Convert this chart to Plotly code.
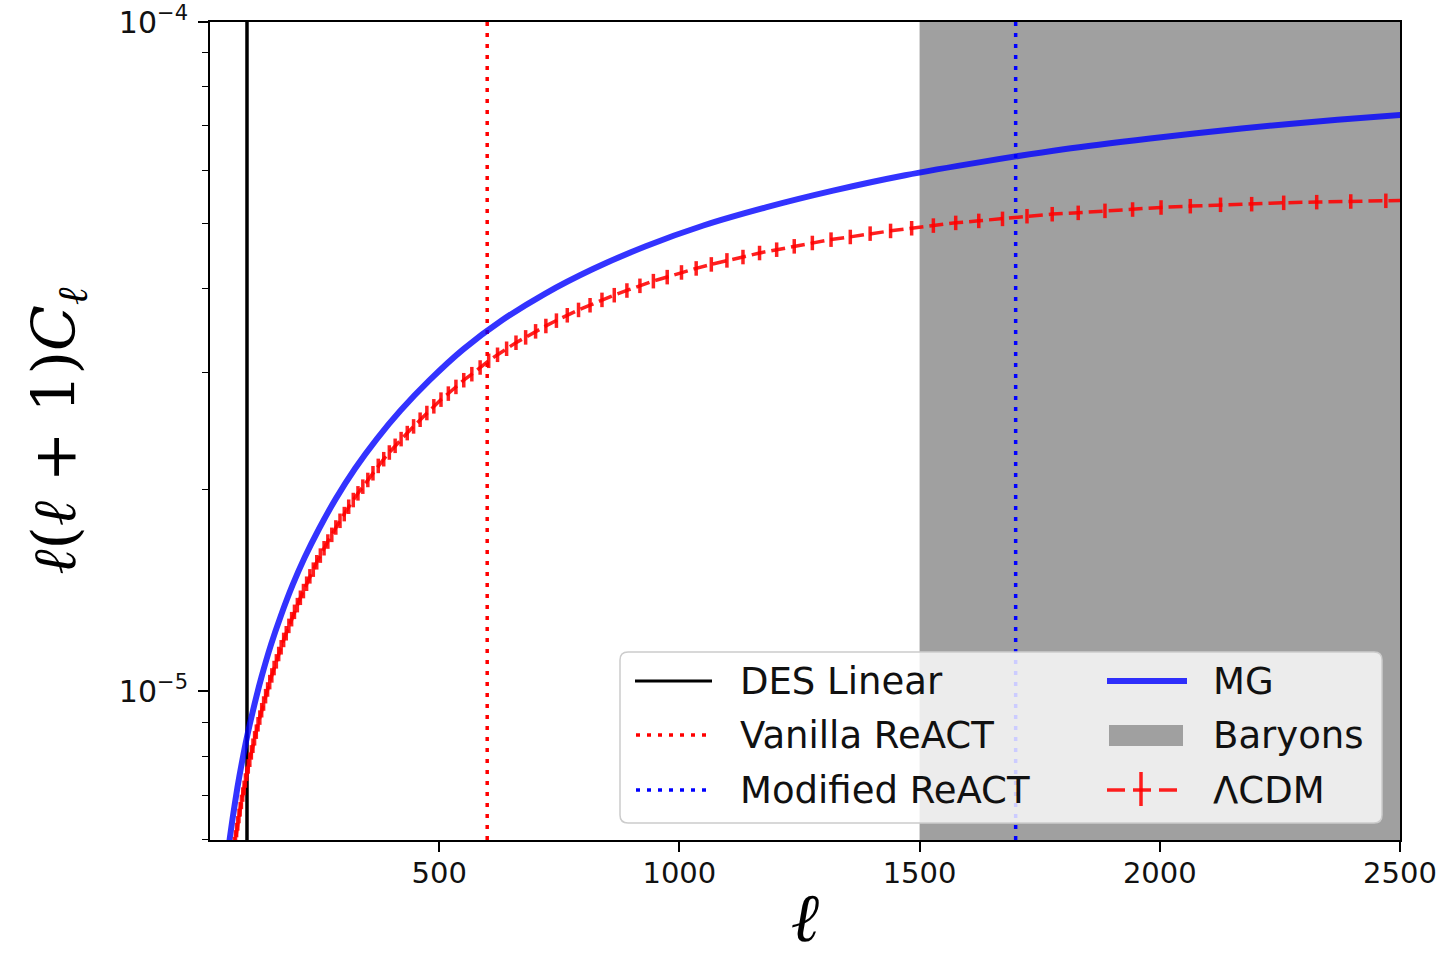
import plotly.graph_objects as go

# ---------------- data ----------------
# LambdaCDM spectrum: multipoles and log10 of l(l+1)C_l
ell_lcdm = [50, 51.5, 53.1, 54.7, 56.4, 58.1, 59.9, 61.7, 63.6, 65.5, 67.5, 69.6, 71.7, 73.9,
            76.1, 78.4, 80.8, 83.3, 85.8, 88.4, 91.1, 93.9, 96.8, 99.7, 102.7, 105.9, 109.1,
            112.4, 115.8, 119.4, 123.0, 126.7, 130.6, 134.6, 138.7, 142.9, 147.3, 151.7, 156.4,
            161.1, 166.0, 171.1, 176.3, 181.7, 187.2, 192.9, 198.8, 204.8, 211.1, 217.5, 224.1,
            230.9, 238.0, 245.2, 252.7, 260.4, 268.3, 276.5, 284.9, 293.6, 302.5, 311.7, 321.2,
            331.0, 341.1, 351.5, 362.2, 373.2, 384.6, 396.3, 408.4, 420.8, 433.6, 446.8, 460.4,
            474.4, 488.9, 503.8, 519.1, 534.9, 551.2, 568.0, 585.3, 603.1, 621.5, 640.4, 659.9,
            680.0, 700.7, 722.1, 744.1, 766.7, 790.1, 814.1, 838.9, 864.5, 890.8, 917.9, 945.9,
            974.7, 1004.4, 1035.0, 1066.5, 1099.0, 1132.4, 1166.9, 1202.5, 1239.1, 1276.8,
            1315.7, 1355.8, 1397.1, 1439.6, 1483.5, 1528.7, 1575.2, 1623.2, 1672.6, 1723.6,
            1776.1, 1830.2, 1885.9, 1943.4, 2002.6, 2063.5, 2126.4, 2191.2, 2257.9, 2326.6,
            2397.5, 2470.5, 2545.7]
lcdm_log10 = [-5.365, -5.354, -5.344, -5.333, -5.323, -5.312, -5.302, -5.291, -5.281, -5.270,
              -5.260, -5.249, -5.239, -5.228, -5.218, -5.207, -5.197, -5.186, -5.176, -5.165,
              -5.154, -5.144, -5.133, -5.123, -5.112, -5.102, -5.091, -5.081, -5.070, -5.060,
              -5.049, -5.039, -5.028, -5.018, -5.007, -4.997, -4.986, -4.976, -4.965, -4.955,
              -4.944, -4.934, -4.923, -4.913, -4.902, -4.892, -4.881, -4.871, -4.860, -4.850,
              -4.839, -4.828, -4.818, -4.807, -4.797, -4.786, -4.776, -4.766, -4.755, -4.745,
              -4.735, -4.724, -4.714, -4.704, -4.694, -4.684, -4.674, -4.663, -4.653, -4.643,
              -4.633, -4.623, -4.614, -4.604, -4.594, -4.584, -4.574, -4.564, -4.555, -4.545,
              -4.535, -4.526, -4.516, -4.506, -4.497, -4.488, -4.479, -4.471, -4.462, -4.454,
              -4.446, -4.438, -4.430, -4.423, -4.415, -4.408, -4.401, -4.394, -4.387, -4.381,
              -4.374, -4.368, -4.362, -4.356, -4.351, -4.345, -4.340, -4.335, -4.330, -4.325,
              -4.321, -4.316, -4.312, -4.308, -4.304, -4.300, -4.297, -4.294, -4.290, -4.287,
              -4.285, -4.282, -4.280, -4.277, -4.275, -4.273, -4.272, -4.270, -4.269, -4.268,
              -4.267, -4.266]
lcdm_err_percent = 2.5

# Modified-gravity spectrum
ell_mg = [50, 60, 70, 80, 90, 100, 115, 130, 150, 170, 195, 220, 250, 285, 325, 370, 420, 480,
          550, 630, 720, 820, 930, 1050, 1180, 1320, 1470, 1630, 1800, 1980, 2170, 2370, 2550]
mg_log10 = [-5.304, -5.242, -5.190, -5.144, -5.104, -5.068, -5.021, -4.979, -4.930, -4.888,
            -4.841, -4.800, -4.757, -4.712, -4.667, -4.623, -4.580, -4.535, -4.489, -4.446,
            -4.406, -4.369, -4.335, -4.304, -4.277, -4.252, -4.229, -4.209, -4.190, -4.174,
            -4.159, -4.146, -4.136]

# scale cuts / regions
ell_des_linear = 100
ell_vanilla = 600
ell_modified = 1700
baryon_range = [1500, 2500]

x_range = [23, 2500]
y_range_log = [-5.222, -4.0]
y_major = [1e-5, 1e-4]
y_major_text = ["10<sup>\u22125</sup>", "10<sup>\u22124</sup>"]
y_minor = [6e-6, 7e-6, 8e-6, 9e-6, 2e-5, 3e-5, 4e-5, 5e-5, 6e-5, 7e-5, 8e-5, 9e-5]
x_ticks = [500, 1000, 1500, 2000, 2500]

legend_col1 = ["DES Linear", "Vanilla ReACT", "Modified ReACT"]
legend_col2 = ["MG", "Baryons", "\u039bCDM"]

# ---------------- figure ----------------
W, H = 1443, 957
ML, MR, MT, MB = 210, 43, 22, 117
PW, PH = W - ML - MR, H - MT - MB

RED = "rgba(255,0,0,0.88)"
BLUE = "rgba(0,0,255,0.8)"
GRAY = "#a0a0a0"

lcdm_vals = [10 ** v for v in lcdm_log10]
mg_vals = [10 ** v for v in mg_log10]
ylo, yhi = 10 ** y_range_log[0], 10 ** y_range_log[1]

fig = go.Figure()

# vertical scale-cut lines
fig.add_trace(go.Scatter(x=[ell_des_linear, ell_des_linear], y=[ylo, yhi], mode="lines",
                         line=dict(color="black", width=3.5), showlegend=False, hoverinfo="skip"))
fig.add_trace(go.Scatter(x=[ell_vanilla, ell_vanilla], y=[ylo, yhi], mode="lines",
                         line=dict(color="red", width=3.5, dash="4px,7px"), showlegend=False,
                         hoverinfo="skip"))
fig.add_trace(go.Scatter(x=[ell_modified, ell_modified], y=[ylo, yhi], mode="lines",
                         line=dict(color="blue", width=3.5, dash="4px,7px"), showlegend=False,
                         hoverinfo="skip"))
# MG
fig.add_trace(go.Scatter(x=ell_mg, y=mg_vals, mode="lines",
                         line=dict(color=BLUE, width=6, shape="spline", smoothing=0.8),
                         showlegend=False, hoverinfo="skip"))
# LCDM with error bars
fig.add_trace(go.Scatter(x=ell_lcdm, y=lcdm_vals, mode="lines",
                         line=dict(color=RED, width=3.5, dash="14px,6px"),
                         error_y=dict(type="percent", value=lcdm_err_percent, color=RED,
                                      thickness=3.5, width=0),
                         showlegend=False, hoverinfo="skip"))

shapes = []
# Baryon region
shapes.append(dict(type="rect", xref="x", yref="paper", x0=baryon_range[0], x1=baryon_range[1],
                   y0=0, y1=1, fillcolor=GRAY, line=dict(width=0), layer="below"))


def X(px):
    return (px - ML) / PW


def Y(py):
    return (H - MB - py) / PH


# legend frame (rounded)
bx0, by0, bx1, by1, r = 620, 652, 1382, 823, 8
path = (f"M {X(bx0 + r)} {Y(by0)} L {X(bx1 - r)} {Y(by0)} Q {X(bx1)} {Y(by0)} {X(bx1)} {Y(by0 + r)} "
        f"L {X(bx1)} {Y(by1 - r)} Q {X(bx1)} {Y(by1)} {X(bx1 - r)} {Y(by1)} "
        f"L {X(bx0 + r)} {Y(by1)} Q {X(bx0)} {Y(by1)} {X(bx0)} {Y(by1 - r)} "
        f"L {X(bx0)} {Y(by0 + r)} Q {X(bx0)} {Y(by0)} {X(bx0 + r)} {Y(by0)} Z")
shapes.append(dict(type="path", xref="paper", yref="paper", path=path,
                   fillcolor="rgba(255,255,255,0.8)", line=dict(color="#cccccc", width=1.5),
                   layer="above"))

rows = [681, 735, 790]
# column 1 symbols
shapes.append(dict(type="line", xref="paper", yref="paper", x0=X(635), x1=X(712), y0=Y(rows[0]),
                   y1=Y(rows[0]), line=dict(color="black", width=3), layer="above"))
shapes.append(dict(type="line", xref="paper", yref="paper", x0=X(636), x1=X(706), y0=Y(rows[1]),
                   y1=Y(rows[1]), line=dict(color="red", width=3.5, dash="4px,7px"), layer="above"))
shapes.append(dict(type="line", xref="paper", yref="paper", x0=X(636), x1=X(706), y0=Y(rows[2]),
                   y1=Y(rows[2]), line=dict(color="blue", width=3.5, dash="4px,7px"), layer="above"))
# column 2 symbols
shapes.append(dict(type="line", xref="paper", yref="paper", x0=X(1107), x1=X(1187), y0=Y(rows[0]),
                   y1=Y(rows[0]), line=dict(color=BLUE, width=6), layer="above"))
shapes.append(dict(type="rect", xref="paper", yref="paper", x0=X(1109), x1=X(1183), y0=Y(746),
                   y1=Y(725), fillcolor=GRAY, line=dict(width=0), layer="above"))
shapes.append(dict(type="line", xref="paper", yref="paper", x0=X(1107), x1=X(1177), y0=Y(rows[2]),
                   y1=Y(rows[2]), line=dict(color=RED, width=3.5, dash="18px,8px"), layer="above"))
shapes.append(dict(type="line", xref="paper", yref="paper", x0=X(1141), x1=X(1141), y0=Y(806),
                   y1=Y(772), line=dict(color=RED, width=3.5), layer="above"))

annotations = []
for i, t in enumerate(legend_col1):
    annotations.append(dict(text=t, xref="paper", yref="paper", x=X(738), y=Y(rows[i]),
                            xanchor="left", yanchor="middle", showarrow=False,
                            font=dict(family="DejaVu Sans", size=37, color="#111111")))
for i, t in enumerate(legend_col2):
    annotations.append(dict(text=t, xref="paper", yref="paper", x=X(1211), y=Y(rows[i]),
                            xanchor="left", yanchor="middle", showarrow=False,
                            font=dict(family="DejaVu Sans", size=37, color="#111111")))

fig.update_layout(
    width=W, height=H,
    margin=dict(l=ML, r=MR, t=MT, b=MB, pad=0),
    paper_bgcolor="white", plot_bgcolor="white",
    shapes=shapes, annotations=annotations,
    showlegend=False,
    font=dict(family="DejaVu Sans", color="#111111"),
)
fig.update_xaxes(
    range=x_range, tickvals=x_ticks, ticktext=[str(v) for v in x_ticks],
    ticks="outside", ticklen=10, tickwidth=1.5, tickcolor="black",
    tickfont=dict(family="DejaVu Sans", size=29, color="#111111"),
    ticklabelstandoff=-4,
    showline=True, linecolor="black", linewidth=2, mirror=True, showgrid=False, zeroline=False,
    automargin=False,
    title=dict(text="<i>\u2113</i>", font=dict(family="DejaVu Serif", size=68, color="black"),
               standoff=34),
)
fig.update_yaxes(
    type="log", range=y_range_log, tickvals=y_major, ticktext=y_major_text,
    ticks="outside", ticklen=10, tickwidth=1.5, tickcolor="black",
    tickfont=dict(family="DejaVu Sans", size=30, color="#111111"),
    ticklabelstandoff=4,
    minor=dict(tickvals=y_minor, ticks="outside", ticklen=6, tickwidth=1.2, tickcolor="black",
               showgrid=False),
    showline=True, linecolor="black", linewidth=2, mirror=True, showgrid=False, zeroline=False,
    automargin=False,
    title=dict(text="<i>\u2113</i>(<i>\u2113</i> + 1)<i>C</i><sub><i>\u2113</i></sub>",
               font=dict(family="DejaVu Serif", size=60, color="black"), standoff=24),
)

fig.write_html("out.html")
